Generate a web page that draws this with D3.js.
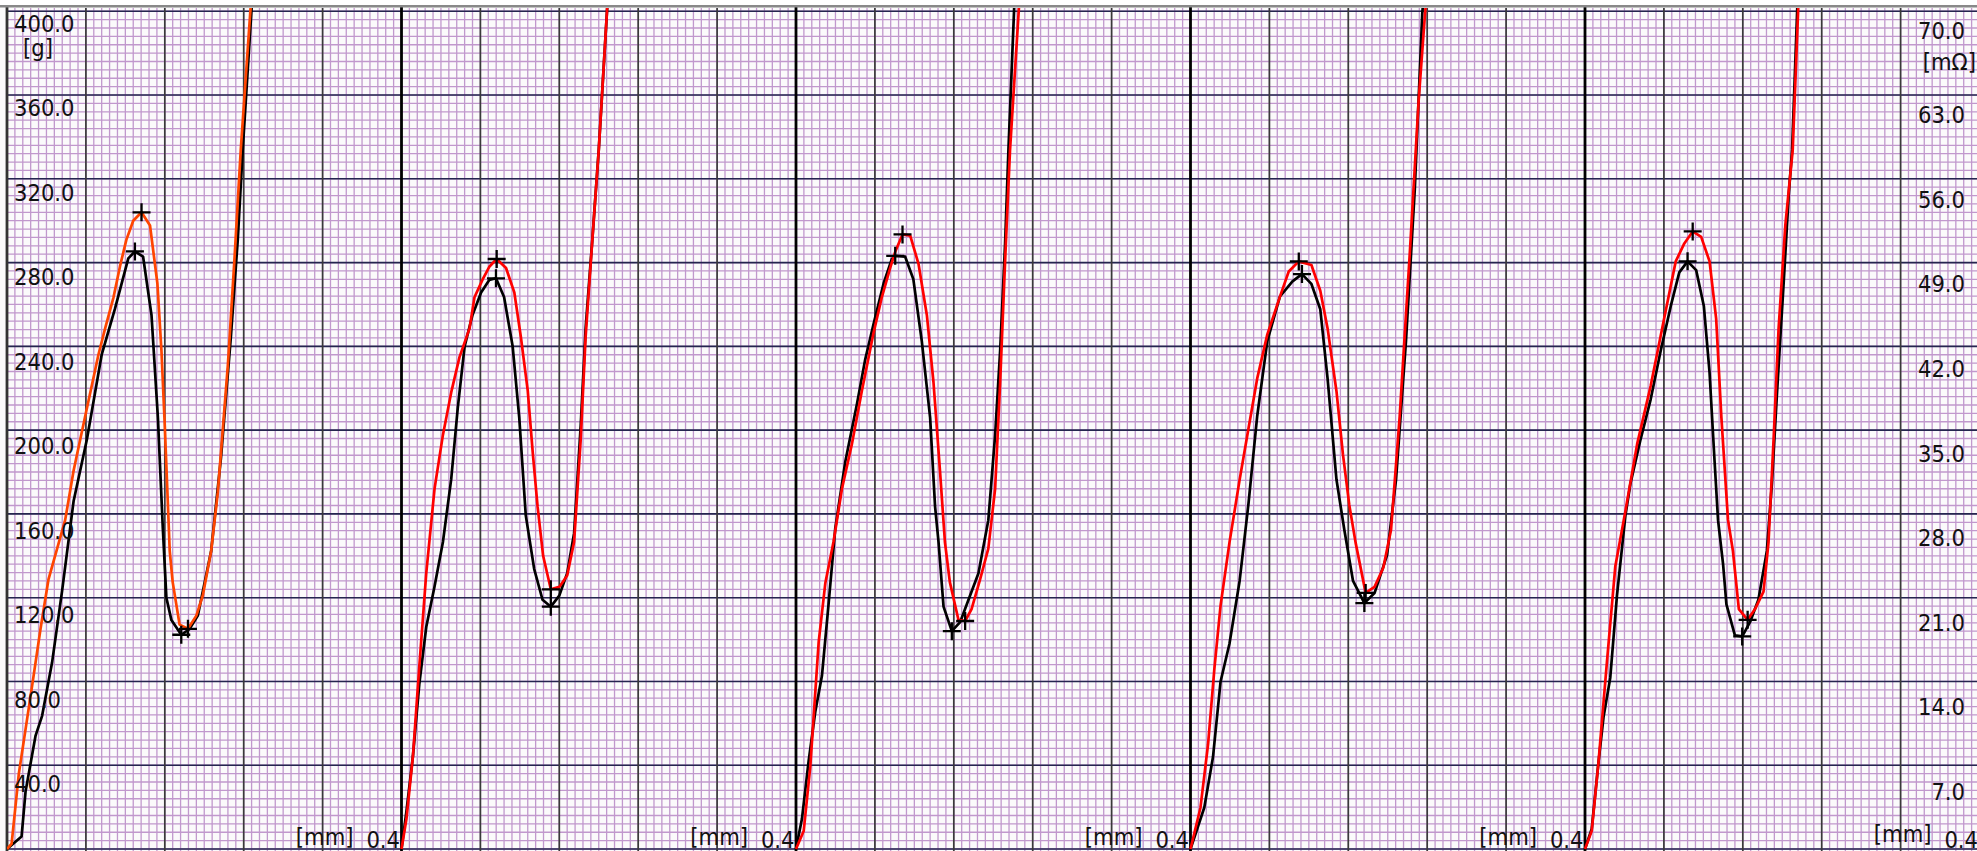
<!DOCTYPE html>
<html lang="en">
<head>
<meta charset="UTF-8" />
<title>Force / resistance</title>
<script src="https://d3js.org/d3.v7.min.js"></script>
<style>
  body { margin: 0; background: #fff; }
  svg { display: block; }
  text { font-family: "DejaVu Sans Condensed", "DejaVu Sans", sans-serif; font-size: 23.5px; fill: #111; }
</style>
</head>
<body>
<div id="chart"></div>
<script>
// black = force [g], red = resistance [mOhm]; x = travel [mm], each panel 0..0.4
var black1 = [[0,0],[0.0148,6],[0.0188,27.4],[0.0289,54],[0.0356,63.6],[0.0457,89],[0.0558,123],[0.0675,166],[0.081,195.5],[0.096,236],[0.1095,258],[0.123,282],[0.1297,285.3],[0.138,282.8],[0.1465,255],[0.153,206],[0.158,153],[0.1616,120],[0.1667,109.3],[0.1767,102.3],[0.185,105],[0.1935,111.5],[0.207,142.3],[0.217,187],[0.227,244.5],[0.234,291],[0.239,333.8],[0.2485,405]];
var red1 = [[0,0],[0.0047,0.45],[0.012,6.3],[0.0255,13.65],[0.034,18.4],[0.042,22.5],[0.059,27.5],[0.0675,31.6],[0.079,36.05],[0.0927,41.3],[0.0995,43.5],[0.108,46.1],[0.1146,48.7],[0.121,50.9],[0.128,52.5],[0.1364,53.2],[0.145,52.1],[0.1525,47.25],[0.1566,41.65],[0.16,35.35],[0.165,24.9],[0.168,22.3],[0.175,18.75],[0.1835,18.4],[0.192,19.5],[0.1986,21.2],[0.207,24.9],[0.2137,29.75],[0.224,40.5],[0.2305,49.1],[0.237,58.4],[0.2475,70.9]];

var black2 = [[0,0],[0.005,18],[0.0116,44.4],[0.018,78.5],[0.0251,106],[0.0335,125.3],[0.042,146.6],[0.0504,176.6],[0.057,210.4],[0.064,240],[0.072,255],[0.0807,265.7],[0.089,271.7],[0.0958,272.5],[0.104,263.6],[0.1127,240],[0.1194,206],[0.126,159.3],[0.1345,133.8],[0.143,119],[0.1514,115.7],[0.16,121],[0.168,131.7],[0.175,150.8],[0.1817,202],[0.1867,248.7],[0.1935,291],[0.2,333.8],[0.209,405]];
var red2 = [[0,0],[0.005,2.5],[0.0116,7.77],[0.018,15.2],[0.0251,23.05],[0.0335,30.1],[0.042,34.6],[0.0504,38.15],[0.0588,41.1],[0.069,43.5],[0.074,46.1],[0.0823,47.6],[0.089,48.65],[0.0965,49.3],[0.106,48.55],[0.1144,46.5],[0.121,42.8],[0.128,38.3],[0.1331,33.1],[0.138,28.6],[0.1436,24.5],[0.1514,21.7],[0.16,21.9],[0.168,22.85],[0.175,25.65],[0.1817,34.2],[0.1867,42.8],[0.1935,50.9],[0.2,58.4],[0.209,70.9]];

var black3 = [[0,0],[0.006,14.3],[0.0128,42],[0.0196,65.7],[0.0263,82.7],[0.033,116.8],[0.0398,153],[0.05,185],[0.0618,212.5],[0.0702,233.8],[0.0787,250.8],[0.0888,270],[0.0972,281.7],[0.1006,283.2],[0.1107,282.8],[0.119,272],[0.1276,242.3],[0.136,206],[0.141,163.6],[0.1445,146.6],[0.1496,115.7],[0.158,104],[0.1664,108.3],[0.1749,119],[0.185,131.7],[0.195,157],[0.2019,197.6],[0.207,238],[0.212,289],[0.2154,333.8],[0.2215,405]];
var red3 = [[0,0],[0.0078,1.5],[0.0145,6.9],[0.023,17.3],[0.0297,22.2],[0.038,25.65],[0.0466,30.1],[0.0567,33.85],[0.0668,38.3],[0.0787,43.15],[0.087,46.1],[0.0955,48.55],[0.1006,49.9],[0.108,51.35],[0.1158,51.25],[0.1242,48.9],[0.1327,44.6],[0.1394,39.0],[0.146,31.6],[0.151,25.65],[0.156,22.3],[0.1647,19.15],[0.1715,19.05],[0.178,20.05],[0.1866,22.5],[0.195,25.1],[0.2019,30.1],[0.207,39.0],[0.212,49.1],[0.217,58.4],[0.2265,70.9]];

var black4 = [[0,0],[0.014,19.8],[0.0228,43.9],[0.0305,80],[0.0395,98],[0.0498,128],[0.0587,164.5],[0.0676,206.6],[0.0779,242.6],[0.0907,263.8],[0.1034,271],[0.113,274.5],[0.1226,269.8],[0.1316,257.7],[0.139,224.6],[0.148,176.4],[0.156,152.3],[0.1648,128],[0.1763,117.4],[0.1866,122.2],[0.1993,140.3],[0.2084,176.4],[0.2185,242.6],[0.2274,314.8],[0.235,399],[0.237,410]];
var red4 = [[0,0],[0.0101,3.45],[0.0178,8.75],[0.0242,15.05],[0.0305,20.35],[0.0395,25.6],[0.0498,30.85],[0.0587,35.1],[0.0676,39.3],[0.0779,43.0],[0.0907,46.15],[0.0996,48.25],[0.1098,49.1],[0.1226,48.8],[0.1316,46.65],[0.139,43.5],[0.148,38.25],[0.1546,32.95],[0.161,28.75],[0.1674,25.6],[0.1776,21.4],[0.1866,21.9],[0.1955,23.5],[0.2033,26.65],[0.2121,36.15],[0.2224,49.85],[0.2313,62.5],[0.2378,69.8],[0.24,71.75]];

var black5 = [[0,0],[0.0068,9.6],[0.0137,41.5],[0.0188,63],[0.0256,81.7],[0.0324,121],[0.041,159.3],[0.046,174.3],[0.0563,195.5],[0.0666,214.7],[0.0768,238],[0.087,259.3],[0.0956,275.3],[0.104,280.6],[0.1127,276.4],[0.1205,259.3],[0.1263,227.4],[0.1314,185],[0.1349,157],[0.14,136],[0.1434,116.8],[0.152,102],[0.1594,101.5],[0.1673,108.3],[0.1758,119],[0.1844,142.3],[0.1895,174.3],[0.1946,217],[0.2014,270],[0.2066,312.6],[0.21,333.8],[0.2155,405]];
var red5 = [[0,0],[0.0068,1.5],[0.0137,7.25],[0.0222,15.6],[0.0307,23.6],[0.041,28.25],[0.0529,33.85],[0.0666,38.7],[0.0802,44.3],[0.092,49.1],[0.1007,50.6],[0.1092,51.6],[0.1178,51.15],[0.1263,49.1],[0.133,44.3],[0.1383,36.05],[0.145,27.5],[0.150,24.9],[0.156,20.05],[0.1649,19.15],[0.1724,20.05],[0.181,21.5],[0.1861,25.65],[0.1912,34.2],[0.1963,43.5],[0.2031,52.1],[0.2106,58.4],[0.2165,70.9]];

var blackSeries = [black1, black2, black3, black4, black5];
var redSeries = [red1, red2, red3, red4, red5];
var redColors = ["#ff4500", "#ff0000", "#ff0000", "#ff0000", "#ff0000"];

var leftTicks = [400, 360, 320, 280, 240, 200, 160, 120, 80, 40];
var rightTicks = [70, 63, 56, 49, 42, 35, 28, 21, 14, 7];
var xMax = 0.4;

var w = 1977;
var h = 851;
var x0 = 7;
var panelW = 394.5;
var plotTop = 11.25;
var plotBottom = 849;

var svg = d3.select("#chart")
    .append("svg")
    .attr("width", w)
    .attr("height", h);

var yScale = d3.scaleLinear().domain([0, 400]).range([plotBottom, plotTop]);
var rScale = d3.scaleLinear().domain([0, 70]).range([plotBottom, plotTop]);

function xScaleFor(i) {
    return d3.scaleLinear()
        .domain([0, xMax])
        .range([x0 + i * panelW, x0 + (i + 1) * panelW]);
}

// first local max and the local min after it
function extrema(pts) {
    var i = 0;
    while (i < pts.length - 1 && pts[i + 1][1] >= pts[i][1]) i++;
    var j = i;
    while (j < pts.length - 1 && pts[j + 1][1] <= pts[j][1]) j++;
    return [pts[i], pts[j]];
}

svg.append("rect")
    .attr("x", 0).attr("y", 0)
    .attr("width", w).attr("height", h)
    .attr("fill", "#fbfafb");

svg.append("clipPath").attr("id", "plot")
    .append("rect")
    .attr("x", x0).attr("y", 8)
    .attr("width", w - x0).attr("height", h - 8);

var grid = svg.append("g");

// minor grid
grid.append("g").selectAll("line")
    .data(d3.range(0, 401, 4))
    .enter().append("line")
    .attr("x1", x0).attr("x2", w)
    .attr("y1", function (d) { return yScale(d); })
    .attr("y2", function (d) { return yScale(d); })
    .attr("stroke", "#c198cd")
    .attr("stroke-width", 1.3);

var minorX = d3.range(0, 50).map(function (k) { return k * 0.008; });
var majorX = d3.range(1, 5).map(function (k) { return k * 0.08; });

for (var p = 0; p < 5; p++) {
    var xs = xScaleFor(p);
    grid.append("g").selectAll("line")
        .data(minorX)
        .enter().append("line")
        .attr("x1", function (d) { return xs(d); })
        .attr("x2", function (d) { return xs(d); })
        .attr("y1", 8).attr("y2", h)
        .attr("stroke", "#c198cd")
        .attr("stroke-width", 1.3);
}

// major grid
grid.append("g").selectAll("line")
    .data(d3.range(0, 401, 40))
    .enter().append("line")
    .attr("x1", x0).attr("x2", w)
    .attr("y1", function (d) { return yScale(d); })
    .attr("y2", function (d) { return yScale(d); })
    .attr("stroke", "#25254f")
    .attr("stroke-width", 1.6);

for (var p = 0; p < 5; p++) {
    var xs = xScaleFor(p);
    grid.append("g").selectAll("line")
        .data(majorX)
        .enter().append("line")
        .attr("x1", function (d) { return xs(d); })
        .attr("x2", function (d) { return xs(d); })
        .attr("y1", 8).attr("y2", h)
        .attr("stroke", "#3a3a3a")
        .attr("stroke-width", 1.7);
}

// panel separators and left axis
grid.append("g").selectAll("line")
    .data(d3.range(0, 5))
    .enter().append("line")
    .attr("x1", function (d) { return xScaleFor(d)(0); })
    .attr("x2", function (d) { return xScaleFor(d)(0); })
    .attr("y1", 6).attr("y2", h)
    .attr("stroke", function (d) { return d === 0 ? "#333" : "#000"; })
    .attr("stroke-width", 2.8);

// curves
var curves = svg.append("g").attr("clip-path", "url(#plot)");

for (var p = 0; p < 5; p++) {
    var xs = xScaleFor(p);
    var gLine = d3.line()
        .x(function (d) { return xs(d[0]); })
        .y(function (d) { return yScale(d[1]); });
    var rLine = d3.line()
        .x(function (d) { return xs(d[0]); })
        .y(function (d) { return rScale(d[1]); });

    curves.append("path")
        .attr("d", gLine(blackSeries[p]))
        .attr("fill", "none")
        .attr("stroke", "#000")
        .attr("stroke-width", 2.7)
        .attr("stroke-linejoin", "round");

    curves.append("path")
        .attr("d", rLine(redSeries[p]))
        .attr("fill", "none")
        .attr("stroke", redColors[p])
        .attr("stroke-width", 2.7)
        .attr("stroke-linejoin", "round");

    // + markers at peak and valley
    var marks = extrema(blackSeries[p]).map(function (d) { return [xs(d[0]), yScale(d[1])]; })
        .concat(extrema(redSeries[p]).map(function (d) { return [xs(d[0]), rScale(d[1])]; }));

    curves.append("g").selectAll("path")
        .data(marks)
        .enter().append("path")
        .attr("d", function (d) {
            return "M" + (d[0] - 9) + "," + d[1] + "H" + (d[0] + 9) +
                "M" + d[0] + "," + (d[1] - 9) + "V" + (d[1] + 9);
        })
        .attr("stroke", "#000")
        .attr("stroke-width", 2.3);
}

// axis labels
var leftLab = d3.scaleLinear().domain([400, 40]).range([32, 792]);
var rightLab = d3.scaleLinear().domain([70, 7]).range([38.5, 800]);

svg.append("g").selectAll("text")
    .data(leftTicks)
    .enter().append("text")
    .attr("x", 14)
    .attr("y", function (d) { return leftLab(d); })
    .text(function (d) { return d.toFixed(1); });

svg.append("text").attr("x", 23).attr("y", 56).text("[g]");

svg.append("g").selectAll("text")
    .data(rightTicks)
    .enter().append("text")
    .attr("x", 1965)
    .attr("y", function (d) { return rightLab(d); })
    .attr("text-anchor", "end")
    .text(function (d) { return d.toFixed(1); });

svg.append("text").attr("x", 1976).attr("y", 70).attr("text-anchor", "end").text("[m\u03a9]");

for (var p = 0; p < 5; p++) {
    var xs = xScaleFor(p);
    svg.append("text")
        .attr("x", xs(xMax) - 48)
        .attr("y", p === 4 ? 842 : 845)
        .attr("text-anchor", "end")
        .text("[mm]");
    svg.append("text")
        .attr("x", xs(xMax) - 1.5)
        .attr("y", 848)
        .attr("text-anchor", "end")
        .text(xMax.toFixed(1));
}

// top border
svg.append("rect")
    .attr("x", 0).attr("y", 0)
    .attr("width", w).attr("height", 5)
    .attr("fill", "#fff");
svg.append("line")
    .attr("x1", 0).attr("x2", w)
    .attr("y1", 6.3).attr("y2", 6.3)
    .attr("stroke", "#888")
    .attr("stroke-width", 2.5);
</script>
</body>
</html>
